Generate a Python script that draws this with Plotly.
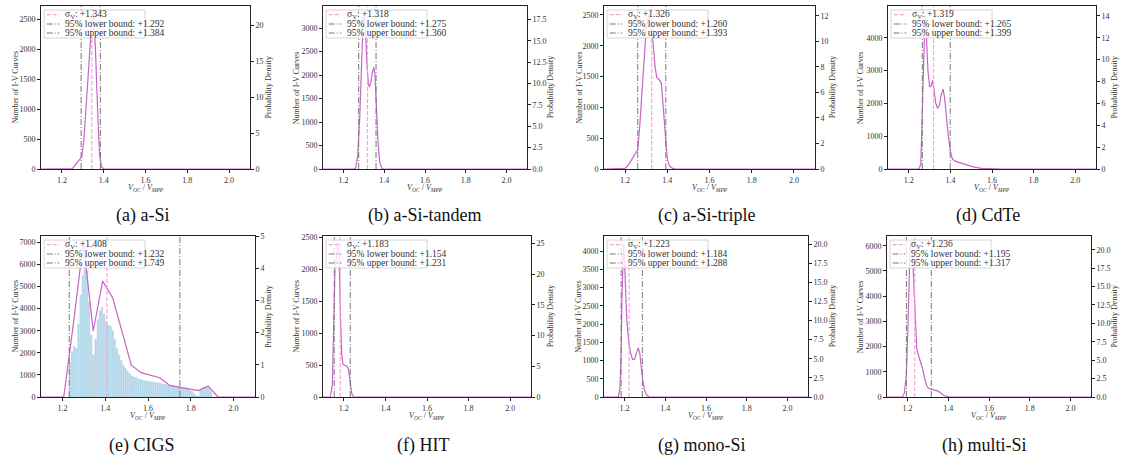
import plotly.graph_objects as go

W, H = 1126, 462

# ---------------- data ----------------
captions = ["(a) a-Si", "(b) a-Si-tandem", "(c) a-Si-triple", "(d) CdTe",
            "(e) CIGS", "(f) HIT", "(g) mono-Si", "(h) multi-Si"]
sigma_v = [1.343, 1.318, 1.326, 1.319, 1.408, 1.183, 1.223, 1.236]
lower_b = [1.292, 1.275, 1.260, 1.265, 1.232, 1.154, 1.184, 1.195]
upper_b = [1.384, 1.360, 1.393, 1.399, 1.749, 1.231, 1.288, 1.317]

count_max = [2717, 3471, 2646, 4966, 7285, 2520, 4411, 6385]
count_tick = [500, 500, 500, 1000, 1000, 500, 500, 1000]
dens_max = [22.7, 19.07, 12.78, 14.9, 5.0, 26.2, 21.05, 21.86]
dens_tick = [5, 2.5, 2, 2, 1, 5, 2.5, 2.5]
dens_fmt = ["d", ".1f", "d", "d", "d", "d", ".1f", ".1f"]

x_ticks = [1.2, 1.4, 1.6, 1.8, 2.0]
x_tick_labels = ["1.2", "1.4", "1.6", "1.8", "2.0"]

kde_a_x = [1.1, 1.24, 1.25, 1.265, 1.28, 1.295, 1.305, 1.32, 1.335, 1.345, 1.352, 1.36, 1.37, 1.38, 1.39, 1.40, 2.1]
kde_a_y = [0, 0, 0.05, 0.6, 1.1, 1.7, 4.0, 11.0, 18.0, 21.5, 21.7, 17.0, 9.0, 2.0, 0.3, 0, 0]

kde_b_x = [1.1, 1.25, 1.26, 1.27, 1.28, 1.29, 1.297, 1.302, 1.308, 1.315, 1.322, 1.328, 1.335, 1.342, 1.349, 1.355, 1.362, 1.37, 1.378, 1.388, 1.395, 2.1]
kde_b_y = [0, 0, 0.1, 1.5, 6.0, 13.0, 17.5, 18.1, 16.5, 12.5, 10.0, 9.6, 10.2, 11.3, 11.9, 11.0, 7.0, 3.0, 0.8, 0.1, 0, 0]

kde_c_x = [1.1, 1.19, 1.2, 1.215, 1.23, 1.25, 1.26, 1.27, 1.285, 1.30, 1.312, 1.322, 1.332, 1.342, 1.35, 1.362, 1.372, 1.38, 1.39, 1.40, 1.41, 1.425, 1.44, 2.1]
kde_c_y = [0, 0, 0.05, 0.3, 0.7, 1.2, 1.5, 3.5, 7.5, 11.0, 12.1, 11.3, 10.0, 8.0, 7.2, 7.0, 6.7, 5.0, 2.5, 0.8, 0.25, 0.05, 0, 0]

kde_d_x = [1.1, 1.25, 1.258, 1.265, 1.272, 1.278, 1.285, 1.292, 1.3, 1.307, 1.315, 1.322, 1.33, 1.338, 1.347, 1.356, 1.365, 1.372, 1.38, 1.39, 1.40, 1.41, 1.425, 1.45, 1.48, 1.51, 1.55, 1.6, 1.65, 2.1]
kde_d_y = [0, 0, 0.5, 6.0, 12.0, 14.1, 12.0, 9.0, 7.5, 7.6, 8.1, 7.2, 6.0, 5.55, 5.8, 6.8, 7.3, 6.5, 4.8, 3.0, 1.6, 0.9, 0.7, 0.55, 0.42, 0.2, 0.05, 0.02, 0, 0]

kde_e_x = [1.1, 1.206, 1.25, 1.298, 1.344, 1.388, 1.435, 1.522, 1.568, 1.655, 1.701, 1.835, 1.881, 1.927, 2.1]
kde_e_y = [0, 0, 2.2, 4.8, 2.05, 3.6, 3.08, 0.99, 0.755, 0.6, 0.36, 0.2, 0.34, 0, 0]

kde_f_x = [1.1, 1.135, 1.145, 1.152, 1.158, 1.163, 1.168, 1.173, 1.178, 1.184, 1.19, 1.196, 1.205, 1.215, 1.222, 1.23, 1.238, 1.248, 2.1]
kde_f_y = [0, 0, 2.0, 14.0, 21.5, 22.0, 24.5, 25.0, 22.0, 13.0, 7.0, 5.3, 5.1, 5.0, 4.6, 2.2, 0.6, 0, 0]

kde_g_x = [1.1, 1.17, 1.178, 1.184, 1.188, 1.192, 1.196, 1.2, 1.206, 1.212, 1.22, 1.23, 1.24, 1.25, 1.26, 1.268, 1.275, 1.283, 1.29, 1.298, 1.308, 1.32, 2.1]
kde_g_y = [0, 0, 1.0, 6.0, 13.0, 19.0, 20.1, 18.0, 13.0, 10.0, 7.5, 5.8, 4.9, 4.9, 5.8, 6.4, 5.8, 3.8, 2.2, 1.0, 0.3, 0, 0]

kde_h_x = [1.1, 1.175, 1.185, 1.195, 1.202, 1.208, 1.213, 1.217, 1.222, 1.228, 1.234, 1.24, 1.246, 1.255, 1.265, 1.275, 1.285, 1.295, 1.305, 1.32, 1.335, 1.35, 1.365, 1.38, 1.395, 1.41, 2.1]
kde_h_y = [0, 0, 0.5, 3.0, 9.0, 16.0, 20.5, 21.1, 20.0, 17.5, 13.0, 9.0, 6.5, 5.6, 4.8, 3.8, 2.5, 1.5, 1.15, 1.05, 0.95, 0.8, 0.5, 0.2, 0.05, 0, 0]

kde_x = [kde_a_x, kde_b_x, kde_c_x, kde_d_x, kde_e_x, kde_f_x, kde_g_x, kde_h_x]
kde_y = [kde_a_y, kde_b_y, kde_c_y, kde_d_y, kde_e_y, kde_f_y, kde_g_y, kde_h_y]

# CIGS histogram (bin start 1.23, bin width 0.01)
cigs_bin_start = 1.23
cigs_bin_width = 0.01
cigs_counts = [1550, 2050, 2300, 2200, 3300, 4600, 5500, 6400, 5700, 4300,
               2800, 1900, 2600, 3500, 3900, 4050, 3750, 3400, 3250, 3200,
               3000, 2600, 2200, 1900, 1650, 1450, 1300, 1150, 1050, 950,
               900, 880, 820, 800, 760, 740, 720, 700, 690, 670,
               650, 640, 620, 600, 580, 560, 540, 520, 500, 480,
               470, 450, 430, 410, 380, 340, 300, 250, 150, 60,
               40, 350, 420, 450, 430, 400, 250]

# ---------------- layout geometry (pixels) ----------------
boxes = [(41, 250, 6, 169), (323, 527, 6, 169), (604, 815, 6, 169), (888, 1096, 6, 169),
         (41, 255, 236, 397), (323, 531, 236, 397), (604, 808, 236, 397), (887, 1091, 236, 397)]
left_title_off = [26, 26.3, 24.7, 27.3, 26, 27, 25.7, 26.3]
right_title_off = [18, 23.7, 17.7, 18, 13.3, 19.7, 24.7, 23]
caption_x = [142, 424, 706, 988, 142, 423, 702, 984]
caption_y = [216, 216, 216, 216, 445, 445, 445, 445]

FONT = "Liberation Serif"
CAP_FONT = "Liberation Serif"
TXT = "#333333"
KDE_COLOR = "rgb(200,100,200)"
SIG_COLOR = "#f5a3dc"
BND_COLOR = "#777777"
TICK_SIZE = 8
TITLE_SIZE = 8
LEG_SIZE = 9.5


def px(x):
    return x / W


def py(y):
    return 1 - y / H


fig = go.Figure()
layout = dict(width=W, height=H, margin=dict(l=0, r=0, t=0, b=0),
              paper_bgcolor="white", plot_bgcolor="white", showlegend=False,
              bargap=0.3)
shapes = []
annotations = []

for i in range(8):
    n = i + 1
    nr = i + 9
    sx = "" if n == 1 else str(n)
    x0, x1, y0, y1 = boxes[i]
    xname = "x" + sx
    yname = "y" + sx
    yrname = "y" + str(nr)
    ydom = [py(y1), py(y0)]
    tick_common = dict(ticks="outside", ticklen=3, tickwidth=0.8, tickcolor="#222",
                       tickfont=dict(family=FONT, size=TICK_SIZE, color=TXT),
                       showline=True, linecolor="#222", linewidth=1,
                       showgrid=False, zeroline=False, automargin=False)

    layout["xaxis" + sx] = dict(
        domain=[px(x0), px(x1)], anchor=yname, range=[1.1, 2.1],
        tickvals=x_ticks, ticktext=x_tick_labels, mirror=True, **tick_common)
    layout["yaxis" + sx] = dict(
        domain=ydom, anchor=xname, range=[0, count_max[i]],
        tick0=0, dtick=count_tick[i], **tick_common)
    layout["yaxis" + str(nr)] = dict(
        domain=ydom, overlaying=yname, side="right", anchor=xname, range=[0, dens_max[i]],
        tick0=0, dtick=dens_tick[i], tickformat=dens_fmt[i], **tick_common)

    if i == 4:
        bx = [cigs_bin_start + cigs_bin_width * (k + 0.5) for k in range(len(cigs_counts))]
        fig.add_trace(go.Bar(x=bx, y=cigs_counts, xaxis=xname, yaxis=yname,
                             width=cigs_bin_width * 0.62,
                             marker=dict(color="rgba(178,216,234,0.8)",
                                         line=dict(color="rgba(125,180,214,0.85)", width=0.4)),
                             hoverinfo="skip"))
    else:
        # empty count series keeps the left (count) axis of this panel alive
        fig.add_trace(go.Scatter(x=[None], y=[None], xaxis=xname, yaxis=yname,
                                 mode="lines", hoverinfo="skip"))

    fig.add_trace(go.Scatter(x=kde_x[i], y=kde_y[i], xaxis=xname, yaxis=yrname,
                             mode="lines", line=dict(color=KDE_COLOR, width=1.2),
                             hoverinfo="skip"))

    # reference lines
    yd = yname + " domain"
    shapes.append(dict(type="line", xref=xname, yref=yd, x0=lower_b[i], x1=lower_b[i], y0=0, y1=1,
                       line=dict(color=BND_COLOR, width=1, dash="6px,2px,1px,2px")))
    shapes.append(dict(type="line", xref=xname, yref=yd, x0=upper_b[i], x1=upper_b[i], y0=0, y1=1,
                       line=dict(color=BND_COLOR, width=1, dash="6px,2px,1px,2px")))
    shapes.append(dict(type="line", xref=xname, yref=yd, x0=sigma_v[i], x1=sigma_v[i], y0=0, y1=1,
                       line=dict(color=SIG_COLOR, width=1.2, dash="4px,2px")))

    # legend box
    shapes.append(dict(type="rect", xref="paper", yref="paper",
                       x0=px(x0 + 3), x1=px(x0 + 104), y0=py(y0 + 32), y1=py(y0 + 4),
                       fillcolor="rgba(255,255,255,0.8)", line=dict(color="#cccccc", width=0.8)))
    labels = [f"σ<sub>V</sub>: +{sigma_v[i]:.3f}",
              f"95% lower bound: +{lower_b[i]:.3f}",
              f"95% upper bound: +{upper_b[i]:.3f}"]
    styles = [(SIG_COLOR, "4px,2px", 1.2), (BND_COLOR, "6px,2px,1px,2px", 1), (BND_COLOR, "6px,2px,1px,2px", 1)]
    for r, off in enumerate([8.7, 18, 27]):
        c, d, w = styles[r]
        shapes.append(dict(type="line", xref="paper", yref="paper",
                           x0=px(x0 + 5.7), x1=px(x0 + 18.3), y0=py(y0 + off), y1=py(y0 + off),
                           line=dict(color=c, width=w, dash=d)))
        annotations.append(dict(xref="paper", yref="paper", x=px(x0 + 22), y=py(y0 + off),
                                xanchor="left", yanchor="middle", showarrow=False,
                                text=labels[r], font=dict(family=FONT, size=LEG_SIZE, color=TXT)))

    # axis titles
    annotations.append(dict(xref="paper", yref="paper", x=px(x0 - left_title_off[i]), y=py((y0 + y1) / 2),
                            xanchor="center", yanchor="middle", showarrow=False, textangle=-90,
                            text="Number of I-V Curves", font=dict(family=FONT, size=TITLE_SIZE, color=TXT)))
    annotations.append(dict(xref="paper", yref="paper", x=px(x1 + right_title_off[i]), y=py((y0 + y1) / 2),
                            xanchor="center", yanchor="middle", showarrow=False, textangle=-90,
                            text="Probability Density", font=dict(family=FONT, size=TITLE_SIZE, color=TXT)))
    annotations.append(dict(xref="paper", yref="paper", x=px((x0 + x1) / 2), y=py(y1 + 18.5),
                            xanchor="center", yanchor="middle", showarrow=False,
                            text="<i>V<sub>OC</sub></i> / <i>V<sub>MPP</sub></i>",
                            font=dict(family=FONT, size=TITLE_SIZE, color=TXT)))
    # caption
    annotations.append(dict(xref="paper", yref="paper", x=px(caption_x[i]), y=py(caption_y[i]),
                            xanchor="center", yanchor="middle", showarrow=False,
                            text=captions[i], font=dict(family=CAP_FONT, size=18, color="#111")))

layout["shapes"] = shapes
layout["annotations"] = annotations
fig.update_layout(**layout)
fig.write_html("out.html")
